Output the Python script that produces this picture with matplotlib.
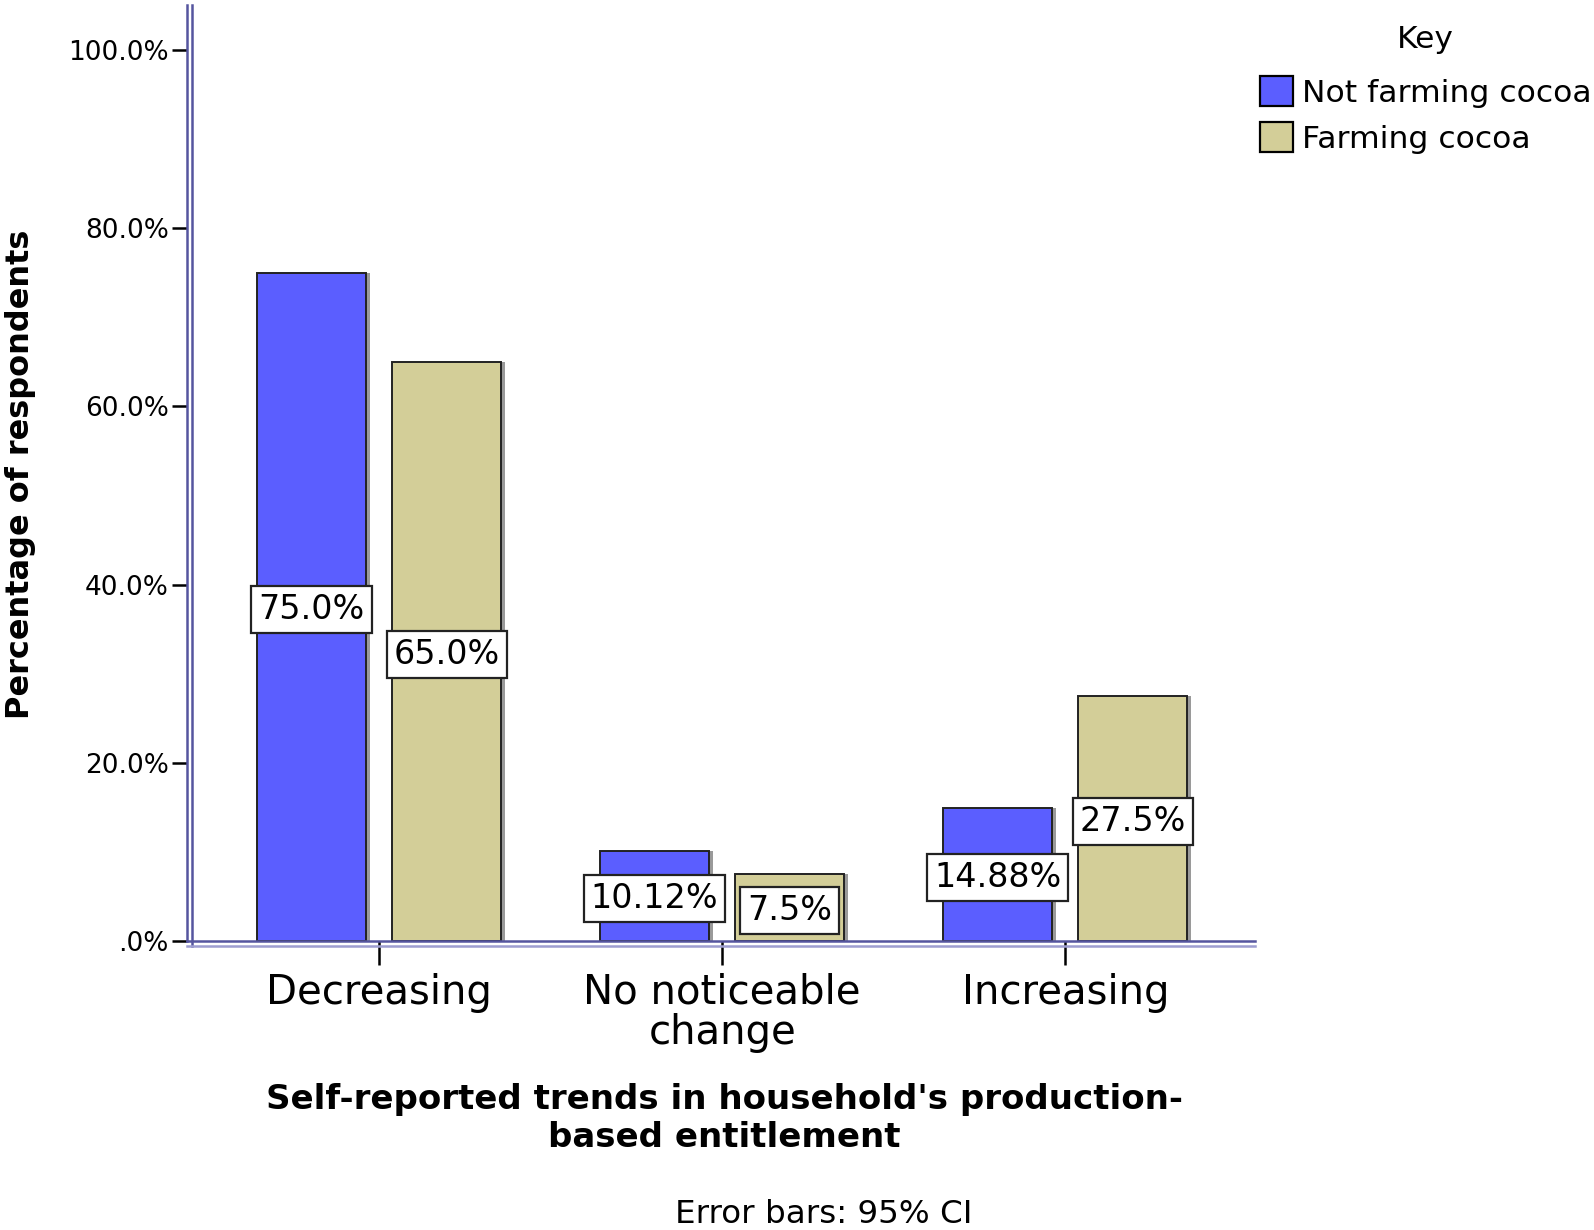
import numpy as np
import matplotlib
matplotlib.use("Agg")
import matplotlib.pyplot as plt
from matplotlib.patches import Patch

categories = ["Decreasing", "No noticeable\nchange", "Increasing"]
series_names = ["Not farming cocoa", "Farming cocoa"]
not_farming = [75.0, 10.12, 14.88]
farming = [65.0, 7.5, 27.5]
not_farming_labels = ["75.0%", "10.12%", "14.88%"]
farming_labels = ["65.0%", "7.5%", "27.5%"]
ytick_vals = [0, 20, 40, 60, 80, 100]
ytick_labels = [".0%", "20.0%", "40.0%", "60.0%", "80.0%", "100.0%"]

blue = "#5B5EFF"
tan = "#D3CE98"
axis_col = "#55559F"

W, H = 1594, 1230
fig = plt.figure(figsize=(W / 100, H / 100), dpi=100)
ax = fig.add_axes([187 / W, 1 - 941 / H, (1255 - 187) / W, (941 - 5) / H])

x = np.arange(len(categories))
off = 0.197
bw = 0.317

for xs, vals, labs, col in [(x - off, not_farming, not_farming_labels, blue),
                            (x + off, farming, farming_labels, tan)]:
    # grey shadow on the right side, then the bar itself
    ax.bar(xs + 0.012, vals, bw, color="#9a9a9a", zorder=1)
    ax.bar(xs, vals, bw, color=col, edgecolor="#222222", linewidth=1.4, zorder=2)
    for xi, v, lab in zip(xs, vals, labs):
        ax.text(xi, v / 2 - 0.3, lab, ha="center", va="center", fontsize=24, zorder=4,
                bbox=dict(boxstyle="square,pad=0.21", fc="white", ec="#222222", lw=1.6))

ax.set_xlim(-0.56, 2.553)
ax.set_ylim(0, 105.05)

ax.set_yticks(ytick_vals)
ax.set_yticklabels(ytick_labels, fontsize=19)
ax.set_xticks(x)
ax.set_xticklabels(categories, fontsize=29, linespacing=1.0)
ax.tick_params(axis="y", direction="out", length=11, width=1.8, color="black", pad=2)
ax.tick_params(axis="x", direction="out", length=17, width=1.8, color="black", pad=6)

for s in ["top", "right"]:
    ax.spines[s].set_visible(False)
ax.spines["left"].set_color(axis_col)
ax.spines["left"].set_linewidth(1.8)
ax.spines["bottom"].set_color(axis_col)
ax.spines["bottom"].set_linewidth(1.8)
# second (double) axis lines
ax.plot([5 / 1068, 5 / 1068], [-5 / 936, 1], transform=ax.transAxes,
        color=axis_col, lw=1.8, clip_on=False, zorder=5)
ax.plot([0, 1], [-5 / 936, -5 / 936], transform=ax.transAxes,
        color="#9d9dd0", lw=1.8, clip_on=False, zorder=5)

fig.text(20.3 / W, 1 - 474.7 / H, "Percentage of respondents", rotation=90,
         ha="center", va="center", fontsize=23, fontweight="bold")
fig.text(724 / W, 1 - 1118.5 / H,
         "Self-reported trends in household's production-\nbased entitlement",
         ha="center", va="center", fontsize=24.5, fontweight="bold", linespacing=1.2)
fig.text(823.5 / W, 1 - 1214.5 / H, "Error bars: 95% CI", ha="center", va="center",
         fontsize=23.4)

fig.text(1425 / W, 1 - 39.5 / H, "Key", ha="center", va="center", fontsize=22.5)
handles = [Patch(facecolor=blue, edgecolor="black", lw=1.6),
           Patch(facecolor=tan, edgecolor="black", lw=1.6)]
fig.legend(handles, series_names, loc="upper left",
           bbox_to_anchor=(1260 / W, 1 - 76 / H), frameon=False, fontsize=22.6,
           borderpad=0, borderaxespad=0, handlelength=1.05, handleheight=1.1,
           handletextpad=0.3, labelspacing=0.45)

fig.savefig("out.png", dpi=100)
